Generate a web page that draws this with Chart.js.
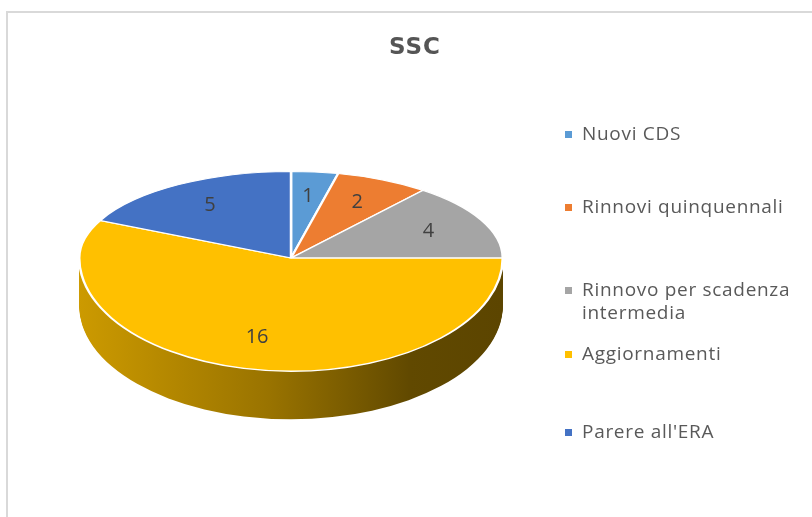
<!DOCTYPE html>
<html>
<head>
<meta charset="utf-8">
<script src="https://cdn.jsdelivr.net/npm/chart.js@4.4.1/dist/chart.umd.min.js"></script>
<style>
  html, body { margin: 0; padding: 0; background: #fff; }
  #wrap { position: relative; width: 812px; height: 517px; overflow: hidden; }
  #frame { position: absolute; left: 6px; top: 11px; width: 900px; height: 600px;
           border-left: 2px solid #d9d9d9; border-top: 2px solid #d9d9d9; }
  #title { position: absolute; left: 0; top: 33px; width: 830px; text-align: center;
           font: bold 23px "DejaVu Sans"; line-height: 26px; letter-spacing: 1px; color: #555555; }
  #myChart { position: absolute; left: 0; top: 0; }
  .item { position: absolute; left: 565px; width: 247px; font: 19px "Open Sans"; line-height: 23px;
          letter-spacing: 0.7px; color: #595959; }
  .item .box { position: absolute; left: 0; top: 9px; width: 7px; height: 7px; }
  .item .txt { display: block; margin-left: 17px; width: 232px; }
</style>
</head>
<body>
<div id="wrap">
  <div id="frame"></div>
  <canvas id="myChart" width="812" height="517"></canvas>
  <div id="title">SSC</div>
  <div id="legend"></div>
</div>
<script>
const categories = ['Nuovi CDS', 'Rinnovi quinquennali', 'Rinnovo per scadenza intermedia', 'Aggiornamenti', "Parere all'ERA"];
const counts = [1, 2, 4, 16, 5];
const sliceColors = ['#5B9BD5', '#ED7D31', '#A5A5A5', '#FFC000', '#4472C4'];

// fake 3D: squash the pie vertically, more in front than behind
const TILT_TOP = 0.409;
const TILT_BOTTOM = 0.535;
const DEPTH = 48;
const LABEL_POS = 0.72;
const legendTops = [122, 195, 278, 342, 420];

function shade(hex, f) {
    const n = parseInt(hex.slice(1), 16);
    const r = Math.round(((n >> 16) & 255) * f);
    const g = Math.round(((n >> 8) & 255) * f);
    const b = Math.round((n & 255) * f);
    return 'rgb(' + r + ',' + g + ',' + b + ')';
}

const tiltPlugin = {
    id: 'tilt',
    beforeDatasetsDraw(chart) {
        const ctx = chart.ctx;
        const arcs = chart.getDatasetMeta(0).data;
        const cx = arcs[0].x, cy = arcs[0].y, r = arcs[0].outerRadius;
        const W = chart.width, H = chart.height;

        const sides = sliceColors.map(c => {
            const g = ctx.createLinearGradient(cx - r, 0, cx + r, 0);
            g.addColorStop(0, shade(c, 0.8));
            g.addColorStop(0.45, shade(c, 0.6));
            g.addColorStop(0.78, shade(c, 0.38));
            g.addColorStop(1, shade(c, 0.36));
            return g;
        });

        // side wall, stacked copies of the lower half
        for (let d = DEPTH; d >= 1; d--) {
            ctx.save();
            ctx.beginPath();
            ctx.rect(0, cy + d, W, H);
            ctx.clip();
            ctx.translate(cx, cy + d);
            ctx.scale(1, TILT_BOTTOM);
            ctx.translate(-cx, -cy);
            arcs.forEach((arc, i) => {
                const opts = arc.options;
                arc.options = Object.assign({}, opts, { backgroundColor: sides[i], borderWidth: 0 });
                arc.draw(ctx);
                arc.options = opts;
            });
            ctx.restore();
        }

        // top face in two halves
        [[0, cy, TILT_TOP], [cy, H, TILT_BOTTOM]].forEach(([y0, y1, k]) => {
            ctx.save();
            ctx.beginPath();
            ctx.rect(0, y0, W, y1 - y0);
            ctx.clip();
            ctx.translate(cx, cy);
            ctx.scale(1, k);
            ctx.translate(-cx, -cy);
            arcs.forEach(arc => arc.draw(ctx));
            ctx.restore();
        });

        // value labels
        const values = chart.data.datasets[0].data;
        ctx.save();
        ctx.font = '20px "Open Sans"';
        ctx.fillStyle = '#404040';
        ctx.textAlign = 'center';
        ctx.textBaseline = 'middle';
        arcs.forEach((arc, i) => {
            const mid = (arc.startAngle + arc.endAngle) / 2;
            const px = cx + Math.cos(mid) * r * LABEL_POS;
            const dy = Math.sin(mid) * r * LABEL_POS;
            const py = cy + dy * (dy < 0 ? TILT_TOP : TILT_BOTTOM);
            ctx.fillText(String(values[i]), px, py);
        });
        ctx.restore();
        return false;
    }
};

function drawLegend() {
    const box = document.getElementById('legend');
    categories.forEach((label, i) => {
        const item = document.createElement('div');
        item.className = 'item';
        item.style.top = legendTops[i] + 'px';
        const sq = document.createElement('span');
        sq.className = 'box';
        sq.style.background = sliceColors[i];
        const txt = document.createElement('span');
        txt.className = 'txt';
        txt.textContent = label;
        item.appendChild(sq);
        item.appendChild(txt);
        box.appendChild(item);
    });
}

function drawChart() {
    const ctx = document.getElementById('myChart').getContext('2d');
    const myChart = new Chart(ctx, {
        type: 'pie',
        data: {
            labels: categories,
            datasets: [{
                data: counts,
                backgroundColor: sliceColors,
                borderColor: '#ffffff',
                borderWidth: 2.5
            }]
        },
        options: {
            responsive: false,
            animation: false,
            events: [],
            layout: {
                padding: { left: 78, right: 308, top: 45, bottom: 46 }
            },
            plugins: {
                legend: { display: false },
                tooltip: { enabled: false }
            }
        },
        plugins: [tiltPlugin]
    });
}

drawLegend();
drawChart();
</script>
</body>
</html>
